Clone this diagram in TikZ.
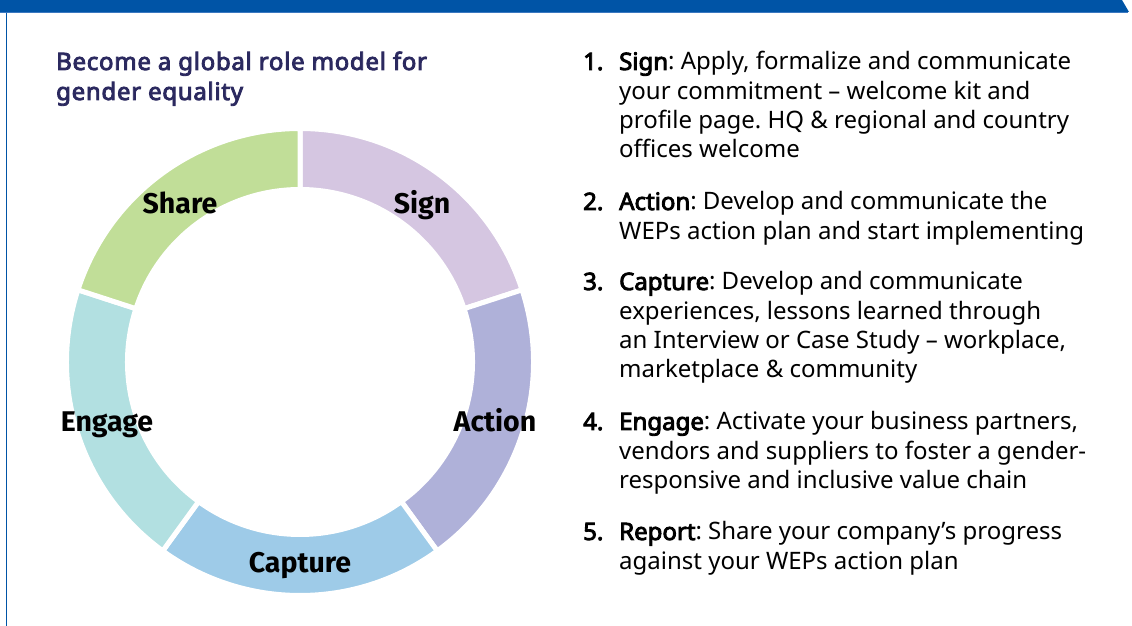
\documentclass[tikz,border=0pt]{standalone}
\usepackage{fontspec}
\usepackage{tikz}
\usepackage{xcolor}
\IfFontExistsTF{NotoSans-Bold.ttf}
    {\setmainfont{Noto Sans}[BoldFont=NotoSans-Bold.ttf]}
    {\setmainfont{Noto Sans}[AutoFakeBold=3.6]}
\newfontfamily\ringfont{Fira Sans}
\frenchspacing
\definecolor{wepblue}{HTML}{0054A6}
\definecolor{wepstrip}{HTML}{3A78C0}
\definecolor{wepnavy}{HTML}{2B295F}
\definecolor{signcol}{HTML}{D5C6E1}
\definecolor{actioncol}{HTML}{AFB1D9}
\definecolor{capturecol}{HTML}{9ECBE8}
\definecolor{engagecol}{HTML}{B2E0E1}
\definecolor{sharecol}{HTML}{C1DE98}
\tikzset{
    ring-seg/.style = {draw=white, line width=5pt, line join=miter},
    ring-label/.style = {inner sep=0pt, anchor=mid, font=\ringfont\bfseries\fontsize{28.5}{32}\selectfont},
    heading/.style = {inner sep=0pt, align=left, text=wepnavy, font=\bfseries\fontsize{24}{30}\selectfont\addfontfeatures{LetterSpace=3}},
    list-num/.style = {inner sep=0pt, text=black, font=\bfseries\fontsize{24}{29.2}\selectfont},
    list-text/.style = {inner sep=0pt, align=left, text=black, font=\fontsize{24}{29.2}\selectfont},
}

\begin{document}
\begin{tikzpicture}[x=1pt, y=1pt]
\useasboundingbox (0,0) rectangle (1132,626);
% frame: blue header bar and left rule
\fill[wepblue] (0,614) -- (0,626) -- (1122,626) -- (1129,614) -- cycle;
\fill[wepstrip] (0,612.5) rectangle (1128,614);
\draw[wepblue, line width=1.5pt] (6.5,0) -- (6.5,612.5);

% base of a multi-line node = its last line
\node[heading, anchor=base west] (title) at (56,526) {Become a global role model for\\gender equality};

% the five-step ring, labels shifted from its centre
\coordinate (ring) at (300,264);
\foreach \from/\to/\col/\name/\off in {18/90/signcol/Sign/{(122,151)}, -54/18/actioncol/Action/{(195,-67)}, -126/-54/capturecol/Capture/{(0,-208)}, 162/234/engagecol/Engage/{(-193,-67)}, 90/162/sharecol/Share/{(-120,151)}} {
    \filldraw[ring-seg, fill=\col] ([shift={(\from:233.5)}]ring) arc[start angle=\from, end angle=\to, radius=233.5]
        -- ([shift={(\to:172.5)}]ring) arc[start angle=\to, end angle=\from, radius=172.5] -- cycle;
    \node[ring-label] (lbl-\name) at ([shift={\off}]ring) {\name};
}

% numbered steps
\node[list-num, anchor=base west] (n1) at (583,556) {1.};
\node[list-text, anchor=base west] (t1) at (619,468.4) {\textbf{Sign}: Apply, formalize and communicate\\your commitment – welcome kit and\\profile page. HQ \& regional and country\\offices welcome};
\node[list-num, anchor=base west] (n2) at (583,416) {2.};
\node[list-text, anchor=base west] (t2) at (619,386.8) {\textbf{Action}: Develop and communicate the\\WEPs action plan and start implementing};
\node[list-num, anchor=base west] (n3) at (583,336) {3.};
\node[list-text, anchor=base west] (t3) at (619,248.4) {\textbf{Capture}: Develop and communicate\\experiences, lessons learned through\\an Interview or Case Study – workplace,\\marketplace \& community};
\node[list-num, anchor=base west] (n4) at (583,196) {4.};
\node[list-text, anchor=base west] (t4) at (619,137.6) {\textbf{Engage}: Activate your business partners,\\vendors and suppliers to foster a gender-\\responsive and inclusive value chain};
\node[list-num, anchor=base west] (n5) at (583,86) {5.};
\node[list-text, anchor=base west] (t5) at (619,56.8) {\textbf{Report}: Share your company’s progress\\against your WEPs action plan};
\end{tikzpicture}
\end{document}
